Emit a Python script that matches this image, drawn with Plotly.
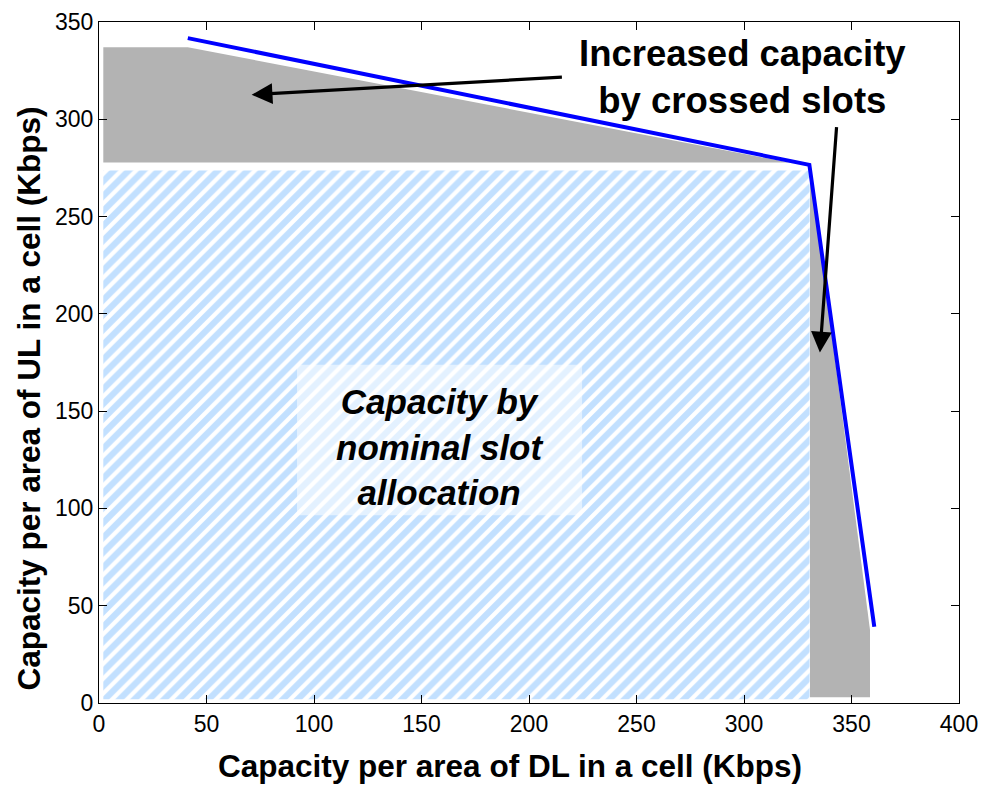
import plotly.graph_objects as go

# ---- data ----
envelope_dl = [41.3, 330.4, 360.6]          # blue capacity envelope
envelope_ul = [341.7, 276.6, 39.2]

gain_ul_dl = [2.0, 41.3, 321.0, 2.0]          # grey: extra UL capacity
gain_ul_ul = [337.0, 337.0, 277.8, 277.8]

gain_dl_dl = [330.7, 358.6, 358.6, 331.0, 330.7]   # grey: extra DL capacity
gain_dl_ul = [2.9, 2.9, 37.5, 274.0, 274.0]

nominal_dl = [2.0, 330.5, 330.5, 2.0]        # hatched nominal region
nominal_ul = [1.9, 1.9, 273.7, 273.7]

label_box_dl = [92.1, 224.7]
label_box_ul = [96.5, 173.8]

arrow1_tail = (216.0, 321.7)
arrow1_head = (71.0, 312.6)
arrow2_tail = (343.1, 296.7)
arrow2_head = (335.3, 180.1)

x_ticks = [0, 50, 100, 150, 200, 250, 300, 350, 400]
y_ticks = [0, 50, 100, 150, 200, 250, 300, 350]

x_title = "Capacity per area of DL in a cell (Kbps)"
y_title = "Capacity per area of UL in a cell (Kbps)"

FONT = "Liberation Sans, Arial, sans-serif"
GREY = "#b3b3b3"

fig = go.Figure()

fig.add_trace(go.Scatter(x=gain_ul_dl, y=gain_ul_ul, fill="toself", mode="none",
                         fillcolor=GREY, hoverinfo="skip", showlegend=False))
fig.add_trace(go.Scatter(x=gain_dl_dl, y=gain_dl_ul, fill="toself", mode="none",
                         fillcolor=GREY, hoverinfo="skip", showlegend=False))
fig.add_trace(go.Scatter(x=nominal_dl, y=nominal_ul, fill="toself", mode="none",
                         fillcolor="white",
                         fillpattern=dict(shape="/", size=10.5, solidity=0.6,
                                          fgcolor="#86c1ff", bgcolor="white"),
                         hoverinfo="skip", showlegend=False))
fig.add_trace(go.Scatter(x=envelope_dl, y=envelope_ul, mode="lines",
                         line=dict(color="#0000ff", width=4),
                         hoverinfo="skip", showlegend=False))

fig.add_shape(type="rect", xref="x", yref="y",
              x0=label_box_dl[0], x1=label_box_dl[1],
              y0=label_box_ul[0], y1=label_box_ul[1],
              fillcolor="rgba(255,255,255,0.55)", line=dict(width=0), layer="above")

fig.add_annotation(x=(label_box_dl[0] + label_box_dl[1]) / 2, y=131.5, xref="x", yref="y",
                   text="<b><i>Capacity by<br>nominal slot<br>allocation</i></b>",
                   showarrow=False, font=dict(family=FONT, size=35, color="black"),
                   align="center")

fig.add_annotation(x=299.5, y=321.9, xref="x", yref="y",
                   text="<b>Increased capacity<br>by crossed slots</b>",
                   showarrow=False, font=dict(family=FONT, size=36.5, color="black"),
                   align="center")

for tail, head in [(arrow1_tail, arrow1_head), (arrow2_tail, arrow2_head)]:
    fig.add_annotation(x=head[0], y=head[1], ax=tail[0], ay=tail[1],
                       xref="x", yref="y", axref="x", ayref="y",
                       text="", showarrow=True, arrowhead=2, arrowsize=1.3,
                       arrowwidth=3.2, arrowcolor="black", standoff=0, startstandoff=0)

# axis titles as annotations (placed as in the reference)
fig.add_annotation(x=0.478, y=-0.0925, xref="paper", yref="paper",
                   text="<b>" + x_title + "</b>", showarrow=False,
                   font=dict(family=FONT, size=31.5, color="black"),
                   xanchor="center", yanchor="middle")
fig.add_annotation(x=-0.0814, y=0.447, xref="paper", yref="paper",
                   text="<b>" + y_title + "</b>", showarrow=False, textangle=-90,
                   font=dict(family=FONT, size=31.5, color="black"),
                   xanchor="center", yanchor="middle")

axis_common = dict(showline=True, linecolor="black", linewidth=1.2, mirror="ticks",
                   ticks="inside", ticklen=8, tickwidth=1, tickcolor="black",
                   showgrid=False, zeroline=False, automargin=False,
                   tickfont=dict(family=FONT, size=23, color="black"))

fig.update_xaxes(range=[0, 400], tickvals=x_ticks, ticktext=[str(v) for v in x_ticks],
                 **axis_common)
fig.update_yaxes(range=[0, 350], tickvals=y_ticks, ticktext=[str(v) for v in y_ticks],
                 **axis_common)

# page body has an 8px margin, so the figure is sized to fit inside the window
fig.update_layout(width=979, height=779,
                  margin=dict(l=91, r=28, t=14, b=84, autoexpand=False),
                  plot_bgcolor="white", paper_bgcolor="white",
                  showlegend=False)

fig.write_html("out.html")
